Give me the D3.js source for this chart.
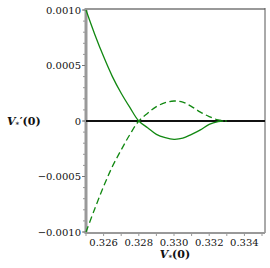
<!DOCTYPE html>
<html><head><meta charset="utf-8">
<script src="https://cdn.jsdelivr.net/npm/d3@7"></script>
<style>body{margin:0;background:#fff}svg{display:block}</style>
</head><body>
<svg id="c" width="270" height="268"></svg>
<script>
const xVals = [0.3250,0.3255,0.3260,0.3265,0.3270,0.3275,0.3280,0.3285,0.3290,0.3295,0.3300,0.3305,0.3310,0.3315,0.3320,0.3325,0.3328];
const solidVals = [0.00100,0.00078,0.00058,0.00040,0.00025,0.00012,0.0,-0.00006,-0.00012,-0.00015,-0.000165,-0.000155,-0.00012,-0.00008,-0.00003,-0.000005,0.0];
const xValsDashed = [0.3250,0.3255,0.3260,0.3265,0.3270,0.3275,0.3280,0.3285,0.3290,0.3295,0.3300,0.3305,0.3310,0.3315,0.3320,0.3325,0.3330];
const dashedVals = [-0.00100,-0.00079,-0.00059,-0.00041,-0.00026,-0.00012,0.0,0.00007,0.00013,0.000165,0.00018,0.00017,0.00013,0.00008,0.00004,0.00001,0.0];
const xTicks = [0.326,0.328,0.330,0.332,0.334];
const xTickLabels = ["0.326","0.328","0.330","0.332","0.334"];
const yTicks = [0.0010,0.0005,0,-0.0005,-0.0010];
const yTickLabels = ["0.0010","0.0005","0","\u22120.0005","\u22120.0010"];

const svg = d3.select("#c");
const x = d3.scaleLinear().domain([0.325, 0.33517]).range([86, 265]);
const y = d3.scaleLinear().domain([-0.001, 0.001]).range([232, 10]);
const font = "'DejaVu Serif', serif";

// frame
svg.append("line").attr("x1",86).attr("x2",265).attr("y1",9).attr("y2",9).attr("stroke","#999").attr("stroke-width",2);
svg.append("line").attr("x1",265).attr("x2",265).attr("y1",8).attr("y2",233).attr("stroke","#555").attr("stroke-width",1);

// x axis
const xMinor = d3.range(0.325, 0.3352, 0.001);
const gx = svg.append("g").attr("transform","translate(0,233)");
gx.append("line").attr("x1",85).attr("x2",265).attr("stroke","#999").attr("stroke-width",2);
gx.selectAll("line.m").data(xMinor).join("line").attr("class","m")
  .attr("x1",d=>x(d)).attr("x2",d=>x(d)).attr("y1",1).attr("y2",3).attr("stroke","#999").attr("stroke-width",1);
gx.selectAll("text").data(xTicks).join("text")
  .attr("x",d=>x(d)).attr("y",12.5).attr("text-anchor","middle")
  .attr("font-family",font).attr("font-size",10).attr("fill","#111")
  .text((d,i)=>xTickLabels[i]);

// y axis
const yMinor = d3.range(-10, 11).map(i=>i*0.0001);
const gy = svg.append("g").attr("transform","translate(86,0)");
gy.append("line").attr("y1",8).attr("y2",234).attr("stroke","#999").attr("stroke-width",3);
gy.selectAll("line.m").data(yMinor).join("line").attr("class","m")
  .attr("x1",-1).attr("x2",-3).attr("y1",d=>y(d)).attr("y2",d=>y(d)).attr("stroke","#999").attr("stroke-width",1);
gy.selectAll("line.M").data(yTicks).join("line").attr("class","M")
  .attr("x1",-1).attr("x2",-4).attr("y1",d=>y(d)).attr("y2",d=>y(d)).attr("stroke","#777").attr("stroke-width",1);
gy.selectAll("text").data(yTicks).join("text")
  .attr("x",-5).attr("y",d=>y(d)+3.6).attr("text-anchor","end")
  .attr("font-family",font).attr("font-size",10).attr("fill","#111")
  .text((d,i)=>yTickLabels[i]);

// zero line
svg.append("line").attr("x1",x(0.325)).attr("x2",265).attr("y1",y(0)).attr("y2",y(0))
  .attr("stroke","#111").attr("stroke-width",2);

const line = d3.line().x(d=>x(d[0])).y(d=>y(d[1])).curve(d3.curveCatmullRom.alpha(0.5));
svg.append("path").datum(xVals.map((v,i)=>[v,solidVals[i]])).attr("d",line)
  .attr("fill","none").attr("stroke","#118811").attr("stroke-width",1.3);
svg.append("path").datum(xValsDashed.map((v,i)=>[v,dashedVals[i]])).attr("d",line)
  .attr("fill","none").attr("stroke","#118811").attr("stroke-width",1.3).attr("stroke-dasharray","6.5,3.5");

// axis titles
const yl = svg.append("text").attr("x",7).attr("y",125).attr("font-family",font).attr("font-size",11).attr("font-weight","bold").attr("fill","#111");
yl.append("tspan").attr("font-style","italic").text("V");
yl.append("tspan").attr("font-size",7).attr("dy",2).text("*");
yl.append("tspan").attr("dy",-2).attr("dx",0.5).text("\u2032(0)");
const xl = svg.append("text").attr("x",175).attr("y",258).attr("text-anchor","middle").attr("font-family",font).attr("font-size",11).attr("font-weight","bold").attr("fill","#111");
xl.append("tspan").attr("font-style","italic").text("V");
xl.append("tspan").attr("font-size",7).attr("dy",2).text("*");
xl.append("tspan").attr("dy",-2).text("(0)");
</script>
</body></html>
